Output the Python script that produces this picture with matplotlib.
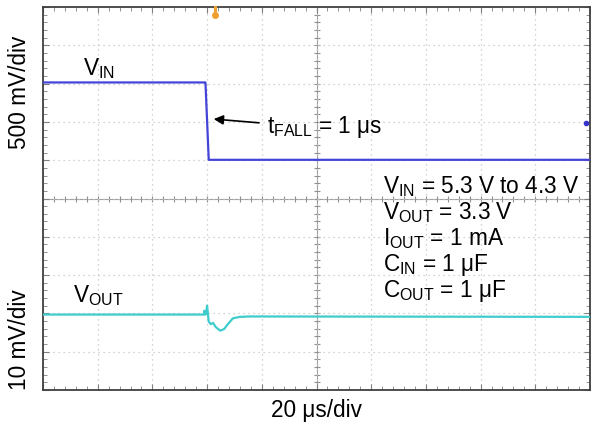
import numpy as np
import matplotlib
matplotlib.use("Agg")
import matplotlib.pyplot as plt
from matplotlib.ticker import MultipleLocator

plt.rcParams['font.family'] = ['Liberation Sans', 'DejaVu Sans']
plt.rcParams['mathtext.fontset'] = 'custom'
plt.rcParams['mathtext.rm'] = 'Liberation Sans'
plt.rcParams['mathtext.it'] = 'Liberation Sans:italic'
plt.rcParams['mathtext.bf'] = 'Liberation Sans:bold'

# ---- data (screen divisions: x = time div, y = vertical div) ----
vin_t = [0.0, 2.97, 3.03, 10.0]
vin_v = [8.03, 8.03, 6.01, 6.01]

vout_t = [0.0, 2.94, 2.95, 2.96, 2.98, 3.00, 3.03, 3.07, 3.11, 3.16, 3.24,
          3.31, 3.38, 3.47, 3.60, 3.78, 10.0]
vout_v = [1.97, 1.97, 2.07, 1.97, 1.98, 2.20, 1.78, 1.72, 1.75, 1.64, 1.55,
          1.59, 1.72, 1.87, 1.91, 1.92, 1.91]

trigger_t = 3.14
ref_marker = (9.93, 6.97)

vin_label = r"V$_\mathrm{IN}$"
vout_label = r"V$_\mathrm{OUT}$"
fall_label = r"t$_\mathrm{FALL}$ = 1 μs"
cond_lines = [r"V$_\mathrm{IN}$ = 5.3 V to 4.3 V",
              r"V$_\mathrm{OUT}$ = 3.3 V",
              r"I$_\mathrm{OUT}$ = 1 mA",
              r"C$_\mathrm{IN}$ = 1 μF",
              r"C$_\mathrm{OUT}$ = 1 μF"]
xlabel = "20 μs/div"
ylabel_top = "500 mV/div"
ylabel_bot = "10 mV/div"

FS = 16.3

fig = plt.figure(figsize=(5.91, 4.35), dpi=100)
ax = fig.add_axes([43/591, 44/435, 547/591, 383/435])
ax.set_xlim(0, 10)
ax.set_ylim(0, 10)

# grid
ax.xaxis.set_major_locator(MultipleLocator(1))
ax.yaxis.set_major_locator(MultipleLocator(1))
ax.xaxis.set_minor_locator(MultipleLocator(0.2))
ax.yaxis.set_minor_locator(MultipleLocator(0.2))
ax.grid(True, which='major', color='#c4c4c4', linestyle=(0, (1, 3)), linewidth=0.9)
ax.tick_params(which='both', direction='in', top=True, right=True,
               labelbottom=False, labelleft=False, color='#808080')
ax.tick_params(which='major', length=4, width=0.8)
ax.tick_params(which='minor', length=3, width=0.6)
for s in ax.spines.values():
    s.set_color('#404040')
    s.set_linewidth(1.3)

# center crosshair with ticks
ax.axhline(5, color='#a0a0a0', lw=0.8, zorder=1)
ax.axvline(5, color='#a0a0a0', lw=0.8, zorder=1)
ticks = np.arange(0.2, 10, 0.2)
ax.plot(ticks, np.full_like(ticks, 5), linestyle='none', marker='|',
        markersize=4, color='#909090', markeredgewidth=0.8, zorder=1)
ax.plot(np.full_like(ticks, 5), ticks, linestyle='none', marker='_',
        markersize=4, color='#909090', markeredgewidth=0.8, zorder=1)

# traces
ax.plot(vin_t, vin_v, color='#4444d8', lw=1.6, zorder=3)
ax.plot(vout_t, vout_v, color='#40cccc', lw=1.6, zorder=3)

# markers
ax.plot([trigger_t], [9.8], marker='o', markersize=4, color='#f0a030',
        clip_on=False, zorder=4)
ax.plot([trigger_t, trigger_t], [10, 9.8], color='#f0a030', lw=2.2,
        clip_on=False, zorder=4)
ax.plot([ref_marker[0]], [ref_marker[1]], marker='o', markersize=3,
        color='#3333cc', clip_on=False, zorder=4)

# labels
ax.text(0.73, 8.25, vin_label, fontsize=FS, va='baseline', ha='left')
ax.text(0.55, 2.32, vout_label, fontsize=FS, va='baseline', ha='left')
ax.text(4.10, 6.74, fall_label, fontsize=FS, va='baseline', ha='left')
ax.annotate('', xy=(3.07, 7.08), xytext=(4.0, 6.97),
            arrowprops=dict(arrowstyle='-|>', color='black', lw=1.2,
                            mutation_scale=14))
cond_y = [5.17, 4.49, 3.81, 3.13, 2.45]
for yy, s in zip(cond_y, cond_lines):
    ax.text(6.22, yy, s, fontsize=FS, va='baseline', ha='left')

fig.text(316.5/591, 1 - 417/435, xlabel, fontsize=FS, ha='center', va='baseline')
fig.text(20/591, 1 - 92/435, ylabel_top, fontsize=FS, rotation=90,
         ha='center', va='center')
fig.text(20/591, 1 - 340/435, ylabel_bot, fontsize=FS, rotation=90,
         ha='center', va='center')

fig.savefig('out.png', dpi=100)
